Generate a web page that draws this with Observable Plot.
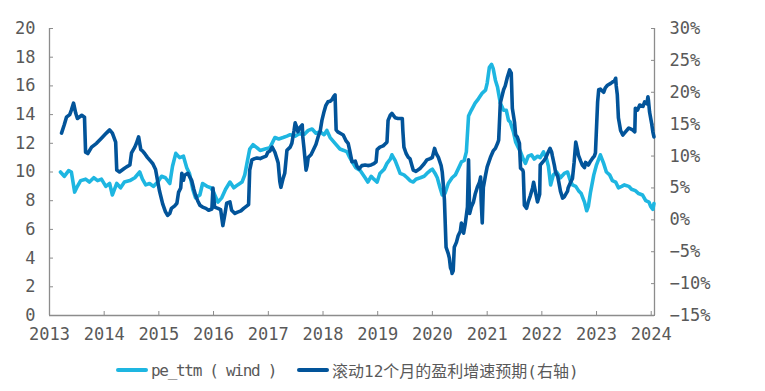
<!DOCTYPE html>
<html>
<head>
<meta charset="utf-8">
<script src="https://cdn.jsdelivr.net/npm/d3@7"></script>
<script src="https://cdn.jsdelivr.net/npm/@observablehq/plot@0.6"></script>
<style>
  html, body { margin: 0; padding: 0; background: #fff; }
  #chart { width: 765px; height: 391px; position: relative; }
  .legend { position: absolute; left: 0; top: 358px; height: 24px; display: flex; align-items: center;
            padding-left: 116px; font-family: "DejaVu Sans Mono", "Noto Sans CJK SC", monospace; font-size: 16px; color: #595959; }
  .sw { display: inline-block; width: 32px; height: 4px; border-radius: 2px; margin-right: 3px; }
  .item { display: flex; align-items: center; white-space: pre; }
</style>
</head>
<body>
<div id="chart"></div>
<script>
// ---- data ----
const peYears = [
  2013.20,2013.27,2013.35,2013.40,2013.46,2013.51,2013.57,2013.66,2013.73,2013.81,
  2013.88,2013.95,2014.03,2014.10,2014.15,2014.23,2014.30,2014.37,2014.47,2014.56,
  2014.65,2014.70,2014.76,2014.83,2014.90,2014.98,2015.05,2015.12,2015.20,2015.25,
  2015.31,2015.38,2015.45,2015.51,2015.56,2015.62,2015.67,2015.75,2015.80,2015.88,
  2015.95,2016.00,2016.08,2016.15,2016.22,2016.30,2016.37,2016.44,2016.52,2016.57,
  2016.61,2016.66,2016.72,2016.79,2016.85,2016.94,2017.03,2017.12,2017.19,2017.27,
  2017.34,2017.40,2017.49,2017.58,2017.65,2017.73,2017.80,2017.87,2017.95,2018.02,
  2018.07,2018.13,2018.22,2018.31,2018.38,2018.44,2018.49,2018.55,2018.60,2018.68,
  2018.77,2018.82,2018.88,2018.93,2018.99,2019.04,2019.12,2019.17,2019.23,2019.26,
  2019.32,2019.37,2019.41,2019.48,2019.54,2019.59,2019.65,2019.70,2019.78,2019.85,
  2019.90,2019.96,2020.00,2020.05,2020.09,2020.14,2020.18,2020.23,2020.29,2020.36,
  2020.42,2020.47,2020.53,2020.58,2020.62,2020.66,2020.71,2020.78,2020.84,2020.91,
  2020.97,2021.00,2021.04,2021.08,2021.11,2021.15,2021.19,2021.24,2021.30,2021.35,
  2021.39,2021.42,2021.48,2021.52,2021.57,2021.61,2021.66,2021.70,2021.75,2021.81,
  2021.86,2021.92,2021.97,2022.03,2022.08,2022.12,2022.16,2022.21,2022.27,2022.34,
  2022.41,2022.47,2022.52,2022.56,2022.62,2022.67,2022.72,2022.78,2022.82,2022.85,
  2022.89,2022.95,2023.00,2023.04,2023.07,2023.13,2023.18,2023.24,2023.29,2023.35,
  2023.40,2023.46,2023.51,2023.59,2023.64,2023.71,2023.77,2023.84,2023.90,2023.96,
  2023.99,2024.03,2024.05
];
const peValues = [
  10.0,9.7,10.1,10.0,8.6,9.0,9.4,9.5,9.3,9.6,
  9.4,9.5,9.0,9.2,8.4,9.2,8.9,9.3,9.4,9.6,
  10.0,9.5,9.1,9.2,9.0,9.3,9.7,9.6,9.2,10.4,
  11.3,11.0,11.1,10.3,9.9,8.8,8.2,8.4,9.2,9.0,
  8.9,8.6,7.9,8.2,8.8,9.3,8.9,9.1,9.3,9.8,
  10.6,11.6,11.9,11.7,11.5,11.6,11.7,12.4,12.3,12.4,
  12.5,12.6,12.5,12.7,12.6,12.9,13.0,12.7,12.8,12.6,
  12.9,12.4,12.0,11.6,11.5,11.4,11.0,10.6,10.3,10.1,
  9.6,9.3,9.7,9.5,9.3,9.9,10.2,10.6,10.9,11.2,
  10.8,10.3,9.9,9.8,9.6,9.4,9.3,9.5,9.6,9.7,
  9.9,10.1,10.2,9.9,9.6,8.9,8.4,8.5,9.2,9.6,
  9.8,10.2,10.7,10.8,11.4,13.9,14.3,14.8,15.1,15.5,
  15.7,16.2,17.3,17.5,17.2,16.4,15.9,14.8,14.3,14.3,
  13.6,13.5,12.8,12.1,11.7,11.4,10.9,10.6,11.1,11.2,
  10.9,11.1,11.0,11.4,11.0,10.4,9.1,9.8,10.0,9.6,
  9.9,10.0,9.4,9.1,9.0,8.7,8.5,7.9,7.3,7.6,
  8.6,9.8,10.5,10.9,11.2,10.6,10.0,9.8,9.4,9.3,
  8.9,9.0,9.1,9.0,8.8,8.7,8.5,8.4,8.0,7.9,
  7.6,7.4,7.8
];
const growthYears = [
  2013.22,2013.27,2013.31,2013.37,2013.40,2013.44,2013.48,2013.51,2013.59,2013.64,
  2013.66,2013.70,2013.77,2013.86,2013.95,2014.04,2014.10,2014.15,2014.21,2014.23,
  2014.28,2014.36,2014.41,2014.47,2014.50,2014.56,2014.59,2014.63,2014.67,2014.70,
  2014.74,2014.79,2014.85,2014.89,2014.94,2014.98,2015.01,2015.07,2015.12,2015.16,
  2015.20,2015.23,2015.29,2015.33,2015.36,2015.40,2015.42,2015.45,2015.47,2015.53,
  2015.56,2015.60,2015.64,2015.67,2015.71,2015.75,2015.80,2015.86,2015.91,2015.97,
  2015.99,2016.02,2016.08,2016.13,2016.17,2016.21,2016.24,2016.30,2016.33,2016.39,
  2016.44,2016.50,2016.55,2016.61,2016.64,2016.66,2016.70,2016.75,2016.79,2016.85,
  2016.90,2016.96,2016.99,2017.03,2017.07,2017.12,2017.16,2017.18,2017.21,2017.23,
  2017.27,2017.30,2017.34,2017.40,2017.43,2017.47,2017.49,2017.52,2017.54,2017.58,
  2017.62,2017.63,2017.65,2017.69,2017.71,2017.73,2017.78,2017.82,2017.87,2017.91,
  2017.95,2017.98,2018.02,2018.05,2018.09,2018.13,2018.16,2018.20,2018.22,2018.24,
  2018.27,2018.33,2018.37,2018.42,2018.46,2018.49,2018.53,2018.59,2018.62,2018.66,
  2018.71,2018.77,2018.82,2018.88,2018.93,2018.97,2018.99,2019.04,2019.10,2019.15,
  2019.17,2019.19,2019.23,2019.26,2019.32,2019.37,2019.45,2019.46,2019.48,2019.52,
  2019.56,2019.59,2019.63,2019.65,2019.70,2019.78,2019.85,2019.90,2019.96,2020.00,
  2020.04,2020.07,2020.11,2020.16,2020.18,2020.20,2020.22,2020.25,2020.29,2020.31,
  2020.33,2020.35,2020.36,2020.38,2020.40,2020.44,2020.47,2020.51,2020.53,2020.57,
  2020.60,2020.64,2020.66,2020.68,2020.71,2020.75,2020.78,2020.82,2020.86,2020.88,
  2020.89,2020.91,2020.93,2020.97,2021.00,2021.06,2021.11,2021.15,2021.19,2021.21,
  2021.24,2021.30,2021.33,2021.37,2021.41,2021.44,2021.46,2021.50,2021.52,2021.55,
  2021.59,2021.61,2021.65,2021.66,2021.68,2021.72,2021.75,2021.79,2021.83,2021.85,
  2021.88,2021.92,2021.96,2021.97,2022.03,2022.07,2022.11,2022.15,2022.18,2022.19,
  2022.23,2022.25,2022.29,2022.31,2022.34,2022.38,2022.41,2022.43,2022.47,2022.48,
  2022.52,2022.56,2022.59,2022.62,2022.65,2022.67,2022.71,2022.74,2022.78,2022.80,
  2022.84,2022.85,2022.89,2022.93,2022.96,2022.98,2023.00,2023.02,2023.04,2023.07,
  2023.13,2023.16,2023.20,2023.26,2023.29,2023.33,2023.35,2023.36,2023.38,2023.40,
  2023.44,2023.48,2023.51,2023.59,2023.66,2023.70,2023.71,2023.75,2023.79,2023.85,
  2023.88,2023.92,2023.94,2023.95,2023.97,2024.01,2024.03,2024.04,2024.05
];
const growthValues = [
  13.6,14.9,16.1,16.5,17.2,18.3,16.7,15.9,16.4,16.1,
  10.6,10.4,11.4,12.0,12.8,13.6,14.1,13.6,12.2,7.8,
  7.5,8.0,8.3,8.6,10.5,11.4,12.0,13.0,11.0,10.8,
  10.4,9.8,9.2,8.8,7.9,6.0,4.6,2.5,1.3,0.7,
  1.0,1.8,2.2,2.6,4.3,5.0,7.3,6.2,7.0,7.3,
  6.8,6.2,4.8,3.9,3.0,2.3,2.0,1.8,1.5,1.7,
  5.0,2.0,1.8,1.6,-0.9,1.0,2.6,2.8,1.5,1.0,
  1.2,1.4,1.8,2.2,2.4,7.8,9.4,9.6,9.7,9.6,
  9.8,10.0,10.6,10.8,11.4,10.6,9.5,8.9,6.0,5.1,
  6.5,7.3,10.9,11.4,12.0,14.0,15.2,14.5,13.8,14.5,
  14.9,13.0,11.4,7.8,8.5,9.8,10.2,10.9,11.8,13.0,
  14.0,15.6,17.0,17.9,18.5,18.6,18.8,19.4,19.6,14.1,
  13.8,13.5,13.3,12.4,12.0,10.8,9.1,9.2,8.4,8.0,
  8.5,8.6,8.5,8.6,8.8,9.1,11.0,11.4,11.6,12.0,
  12.2,15.6,16.4,16.7,16.0,15.9,15.9,14.0,11.4,10.4,
  9.8,9.6,8.4,7.8,7.6,8.1,8.8,9.4,9.6,9.8,
  11.2,10.4,9.8,8.5,7.5,5.5,3.1,-4.3,-5.3,-6.0,
  -7.5,-7.9,-8.4,-8.0,-4.3,-3.5,-2.5,-1.8,-0.5,-2.1,
  -0.6,2.0,9.4,1.0,2.0,2.8,4.0,5.1,5.9,6.7,
  3.0,-0.5,5.1,7.0,8.3,9.8,10.8,11.2,12.0,12.5,
  18.3,20.4,21.0,22.4,23.5,23.0,17.5,15.3,13.3,13.0,
  12.0,8.1,7.8,7.5,2.3,1.8,2.8,3.8,5.0,5.9,
  4.5,2.8,4.0,8.6,9.2,9.7,10.5,11.2,10.6,10.1,
  8.5,7.5,6.8,5.9,4.5,3.4,3.6,3.9,4.5,5.0,
  5.8,6.5,9.0,12.2,11.0,10.1,9.2,8.6,8.2,9.0,
  8.7,8.6,9.2,9.7,10.0,10.5,14.5,18.5,20.4,20.5,
  20.0,20.7,21.1,21.4,21.6,21.8,22.2,21.0,19.6,16.0,
  14.0,13.3,13.6,14.4,14.1,13.8,17.5,17.2,18.0,17.8,
  18.5,18.2,19.3,18.7,16.9,15.0,13.8,13.4,13.0
];
const yearTicks = [2013,2014,2015,2016,2017,2018,2019,2020,2021,2022,2023,2024];
const leftTicks = [0,2,4,6,8,10,12,14,16,18,20];
const rightTicks = [-15,-10,-5,0,5,10,15,20,25,30];
const seriesNames = ["pe_ttm ( wind )", "滚动12个月的盈利增速预期(右轴)"];
const colors = ["#1EB6E1", "#02549A"];

// ---- helpers ----
function yearToDate(y) {
  const yr = Math.floor(y);
  const start = Date.UTC(yr, 0, 1), end = Date.UTC(yr + 1, 0, 1);
  return new Date(start + (y - yr) * (end - start));
}
const leftMin = 0, leftMax = 20, rightMin = -15, rightMax = 30;
const toLeft = p => leftMin + (p - rightMin) * (leftMax - leftMin) / (rightMax - rightMin);

const n1 = Math.min(peYears.length, peValues.length);
const peData = d3.range(n1).map(i => ({date: yearToDate(peYears[i]), v: peValues[i]}));
const n2 = Math.min(growthYears.length, growthValues.length);
const gData = d3.range(n2).map(i => ({date: yearToDate(growthYears[i]), v: toLeft(growthValues[i])}));

const xStart = new Date(Date.UTC(2013, 0, 1));
const xEnd = new Date(Date.UTC(2024, 0, 23));
const axisColor = "#8C8C8C";
const textColor = "#595959";

const plot = Plot.plot({
  width: 765,
  height: 350,
  marginLeft: 49,
  marginRight: 111,
  marginTop: 28,
  marginBottom: 35,
  style: {fontFamily: "'DejaVu Sans Mono', monospace", fontSize: "17px", color: textColor, background: "#fff"},
  x: {type: "utc", domain: [xStart, xEnd]},
  y: {domain: [leftMin, leftMax]},
  marks: [
    Plot.axisX(yearTicks.map(y => new Date(Date.UTC(y, 0, 1))), {
      tickFormat: d => String(d.getUTCFullYear()), tickSize: -4, tickPadding: 16, stroke: axisColor, fill: textColor, label: null
    }),
    Plot.axisY(leftTicks, {anchor: "left", tickSize: -4, tickPadding: 18, stroke: axisColor, fill: textColor, label: null}),
    Plot.axisY(rightTicks.map(toLeft), {
      anchor: "right", tickSize: -4, tickPadding: 19, stroke: axisColor, fill: textColor, label: null,
      tickFormat: v => {
        const p = Math.round(rightMin + (v - leftMin) * (rightMax - rightMin) / (leftMax - leftMin));
        return (p < 0 ? "\u2212" + Math.abs(p) : String(p)) + "%";
      }
    }),
    Plot.ruleX([xStart], {stroke: axisColor, strokeWidth: 1.3}),
    Plot.ruleX([xEnd], {stroke: axisColor, strokeWidth: 1.3}),
    Plot.ruleY([leftMin], {stroke: axisColor, strokeWidth: 1.3}),
    Plot.line(peData, {x: "date", y: "v", stroke: colors[0], strokeWidth: 3.6, strokeLinejoin: "round", strokeLinecap: "round"}),
    Plot.line(gData, {x: "date", y: "v", stroke: colors[1], strokeWidth: 3.6, strokeLinejoin: "round", strokeLinecap: "round"})
  ]
});
const chart = document.getElementById("chart");
chart.appendChild(plot);

const legend = document.createElement("div");
legend.className = "legend";
seriesNames.forEach((name, i) => {
  const item = document.createElement("span");
  item.className = "item";
  if (i > 0) item.style.marginLeft = "21px";
  const sw = document.createElement("span");
  sw.className = "sw";
  sw.style.background = colors[i];
  const t = document.createElement("span");
  t.textContent = name;
  if (i === 0) t.style.letterSpacing = "-1.3px";
  item.appendChild(sw);
  item.appendChild(t);
  legend.appendChild(item);
});
chart.appendChild(legend);
</script>
</body>
</html>
